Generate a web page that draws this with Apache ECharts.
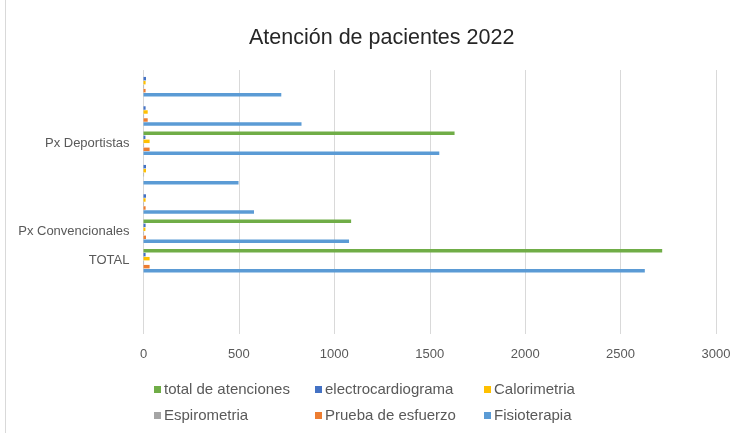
<!DOCTYPE html>
<html>
<head>
<meta charset="utf-8">
<title>Atención de pacientes 2022</title>
<script src="https://cdn.jsdelivr.net/npm/echarts@6/dist/echarts.min.js"></script>
<style>
  html, body {
    margin: 0;
    padding: 0;
    background: #fff;
  }
  #chart {
    width: 742px;
    height: 433px;
  }
</style>
</head>
<body>
<div id="chart"></div>
<script>
// categorias de abajo hacia arriba (como en Excel), filas sin nombre en blanco
const categories = ['', ' ', 'TOTAL', 'Px Convencionales', '  ', '   ', 'Px Deportistas', '    ', '     '];

// valores por serie, mismo orden que categories
const totalAtenciones = [null, null, 2718, 1088, null, null, 1630, null, null];
const electrocardiograma = [null, null, 11, 11, 13, 13, 10, 11, 13];
const calorimetria = [null, null, 32, 10, 11, 13, 32, 22, 11];
const espirometria = [null, null, 3, 3, 3, 3, 3, 3, 3];
const pruebaEsfuerzo = [null, null, 32, 13, 11, null, 32, 22, 11];
const fisioterapia = [null, null, 2627, 1077, 579, 498, 1550, 828, 722];

const xTicks = { min: 0, max: 3000, interval: 500 };

// colores de Office
const colors = {
  total: '#70AD47',
  ecg: '#4472C4',
  calorimetria: '#FFC000',
  espirometria: '#A5A5A5',
  prueba: '#ED7D31',
  fisio: '#5B9BD5'
};

const fontFamily = "'Liberation Sans', Arial, sans-serif";

const makeSeries = (name, data, color) => ({
  name: name,
  type: 'bar',
  data: data,
  barCategoryGap: '20%',
  barGap: '15%',
  itemStyle: { color: color },
  emphasis: { disabled: true }
});

// leyenda en 3 columnas de 2 filas
const legendColumn = (left, names) => ({
  orient: 'vertical',
  left: left,
  top: 377,
  itemWidth: 7,
  itemHeight: 7,
  itemGap: 11,
  icon: 'rect',
  data: names,
  textStyle: { color: '#595959', fontSize: 15, fontFamily: fontFamily, padding: [0, 0, 0, -2] }
});

const option = {
  animation: false,
  title: {
    text: 'Atención de pacientes 2022',
    left: 244,
    top: 22,
    textStyle: {
      fontSize: 21.5,
      fontWeight: 'normal',
      color: '#262626',
      fontFamily: fontFamily
    }
  },
  legend: [
    legendColumn(149, ['total de atenciones', 'Espirometria']),
    legendColumn(310, ['electrocardiograma', 'Prueba de esfuerzo']),
    legendColumn(479, ['Calorimetria', 'Fisioterapia'])
  ],
  grid: {
    left: 143.5,
    right: 26,
    top: 70,
    bottom: 99
  },
  xAxis: {
    type: 'value',
    min: xTicks.min,
    max: xTicks.max,
    interval: xTicks.interval,
    axisLine: { show: false },
    axisTick: { show: false },
    axisLabel: {
      color: '#595959',
      fontSize: 13,
      margin: 14,
      fontFamily: fontFamily,
      formatter: (v) => String(v)
    },
    splitLine: { lineStyle: { color: '#d9d9d9', width: 1 } }
  },
  yAxis: {
    type: 'category',
    data: categories,
    axisLine: { show: false },
    axisTick: { show: false },
    axisLabel: { color: '#595959', fontSize: 13, margin: 14, interval: 0, fontFamily: fontFamily },
    splitLine: { show: false }
  },
  // borde izquierdo del area del grafico
  graphic: [
    {
      type: 'line',
      shape: { x1: 5.5, y1: 0, x2: 5.5, y2: 433 },
      style: { stroke: '#d9d9d9', lineWidth: 1 },
      silent: true
    }
  ],
  series: [
    makeSeries('total de atenciones', totalAtenciones, colors.total),
    makeSeries('electrocardiograma', electrocardiograma, colors.ecg),
    makeSeries('Calorimetria', calorimetria, colors.calorimetria),
    makeSeries('Espirometria', espirometria, colors.espirometria),
    makeSeries('Prueba de esfuerzo', pruebaEsfuerzo, colors.prueba),
    makeSeries('Fisioterapia', fisioterapia, colors.fisio)
  ]
};

const chart = echarts.init(document.getElementById('chart'));
chart.setOption(option);
</script>
</body>
</html>
